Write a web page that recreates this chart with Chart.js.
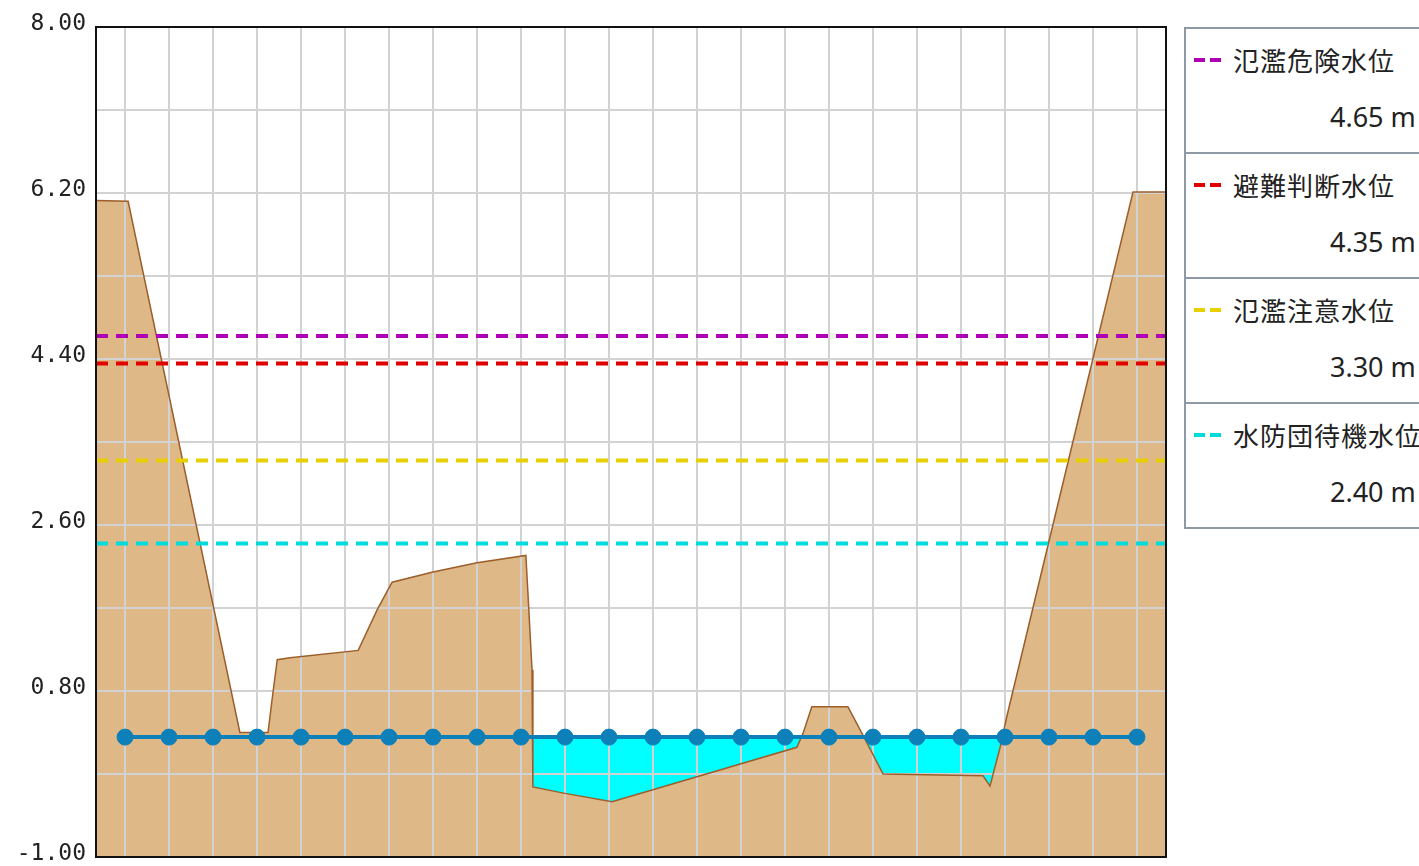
<!DOCTYPE html>
<html lang="ja">
<head>
<meta charset="utf-8">
<title>河川断面</title>
<script src="https://cdn.jsdelivr.net/npm/chart.js@4.4.0/dist/chart.umd.min.js"></script>
<style>
    html, body { margin: 0; padding: 0; background: #fff; width: 1419px; height: 866px; overflow: hidden; }
    #wrap { position: absolute; left: 0; top: 0; width: 1170px; height: 866px; }
    #legend { position: absolute; left: 1184px; top: 27px; width: 320px; border: 2px solid #8d99a5; }
    .item { position: relative; height: 123px; border-bottom: 2px solid #8d99a5; }
    .item:last-child { border-bottom: none; }
    .mark { position: absolute; left: 8px; top: 29px; width: 28px; height: 4px; }
    .name { position: absolute; left: 47px; top: 11px; line-height: 40px; font-size: 26px; font-family: "Noto Sans CJK JP", sans-serif; color: #222; letter-spacing: 1px; white-space: nowrap; }
    .val { position: absolute; left: 144px; top: 68px; line-height: 40px; font-size: 27px; font-family: "Noto Sans", sans-serif; color: #222; white-space: nowrap; }
</style>
</head>
<body>
<div id="wrap"><canvas id="chartSection" width="1170" height="866"></canvas></div>
<div id="legend"></div>
<script>
// x: cross-section distance (grid units), y: elevation (m)
var xMin = -0.66;
var xMax = 23.66;

var stationX = [0, 1, 2, 3, 4, 5, 6, 7, 8, 9, 10, 11, 12, 13, 14, 15, 16, 17, 18, 19, 20, 21, 22, 23];
var waterLevel = [0.30, 0.30, 0.30, 0.30, 0.30, 0.30, 0.30, 0.30, 0.30, 0.30, 0.30, 0.30,
                  0.30, 0.30, 0.30, 0.30, 0.30, 0.30, 0.30, 0.30, 0.30, 0.30, 0.30, 0.30];

var groundX = [-0.66, 0.07, 2.61, 3.25, 3.34, 3.46, 3.75, 5.30, 5.73, 6.07, 7.00, 8.00, 9.11, 9.16, 9.25, 9.27,
               10.00, 11.07, 13.00, 15.27, 15.41, 15.61, 16.43, 16.75, 17.23, 19.50, 19.66, 19.89, 20.05, 22.91, 23.66];
var groundY = [6.12, 6.11, 0.35, 0.35, 0.70, 1.14, 1.16, 1.24, 1.68, 1.98, 2.09, 2.19, 2.27, 1.84, 1.03, -0.24,
               -0.31, -0.40, -0.13, 0.19, 0.34, 0.63, 0.63, 0.34, -0.10, -0.12, -0.23, 0.19, 0.54, 6.21, 6.21];

var levelNames = ['氾濫危険水位', '避難判断水位', '氾濫注意水位', '水防団待機水位'];
var levelValues = [4.65, 4.35, 3.30, 2.40];
var levelColors = ['#b000b4', '#e00000', '#e8d000', '#00dcdc'];

var yMin = -1.00;
var yMax = 8.00;
var yStep = 0.90;

function toPoints(xs, ys) {
    return xs.map(function (x, i) { return { x: x, y: ys[i] }; });
}

var datasets = [];
// 0: water surface, filled down to the ground where the ground is lower
datasets.push({
    label: '水位',
    data: toPoints(stationX, waterLevel),
    borderColor: '#0e80b9',
    backgroundColor: '#00ffff',
    borderWidth: 4,
    pointRadius: 8,
    pointBorderWidth: 1,
    pointBackgroundColor: '#0e80b9',
    pointBorderColor: '#0e80b9',
    fill: { target: levelNames.length + 1, above: '#00ffff', below: 'rgba(0,0,0,0)' }
});
levelNames.forEach(function (name, i) {
    datasets.push({
        label: name,
        data: [{ x: xMin, y: levelValues[i] }, { x: xMax, y: levelValues[i] }],
        borderColor: levelColors[i],
        borderWidth: 4,
        borderDash: [12, 8],
        pointRadius: 0,
        fill: false
    });
});
datasets.push({
    label: '地盤',
    data: toPoints(groundX, groundY),
    borderColor: '#9c5e2a',
    backgroundColor: '#deb887',
    borderWidth: 1.5,
    pointRadius: 0,
    fill: 'start'
});

var framePlugin = {
    id: 'frame',
    afterDatasetsDraw: function (chart) {
        var a = chart.chartArea, ctx = chart.ctx;
        ctx.save();
        ctx.strokeStyle = '#111';
        ctx.lineWidth = 2;
        ctx.strokeRect(a.left, a.top, a.right - a.left, a.bottom - a.top);
        ctx.restore();
    }
};

new Chart(document.getElementById('chartSection'), {
    type: 'line',
    data: { datasets: datasets },
    plugins: [framePlugin],
    options: {
        responsive: false,
        animation: false,
        layout: { autoPadding: false, padding: { top: 27, right: 4, bottom: 9, left: 0 } },
        plugins: {
            legend: { display: false },
            tooltip: { enabled: false },
            filler: { drawTime: 'beforeDraw', propagate: false }
        },
        scales: {
            x: {
                type: 'linear',
                min: xMin,
                max: xMax,
                afterBuildTicks: function (scale) {
                    scale.ticks = stationX.map(function (v) { return { value: v }; });
                },
                afterFit: function (scale) {
                    scale.height = 0;
                    scale.paddingLeft = 0;
                    scale.paddingRight = 0;
                },
                ticks: { display: false },
                grid: { color: '#d2d2d2', lineWidth: 2, drawTicks: false },
                border: { display: false }
            },
            y: {
                min: yMin,
                max: yMax,
                afterFit: function (scale) {
                    scale.width = 96;
                    scale.paddingTop = 0;
                    scale.paddingBottom = 0;
                },
                ticks: {
                    stepSize: yStep,
                    padding: 10,
                    labelOffset: -3,
                    color: '#222',
                    font: { family: 'DejaVu Sans Mono', size: 23 },
                    callback: function (value, index) {
                        return index % 2 === 0 ? Number(value).toFixed(2) : '';
                    }
                },
                grid: { color: '#d2d2d2', lineWidth: 2, drawTicks: false },
                border: { display: false }
            }
        }
    }
});

// legend box on the right
var legendBox = document.getElementById('legend');
levelNames.forEach(function (name, i) {
    var item = document.createElement('div');
    item.className = 'item';
    var mark = document.createElement('span');
    mark.className = 'mark';
    mark.style.background = 'linear-gradient(to right, ' + levelColors[i] + ' 0 11px, transparent 11px 16px, ' + levelColors[i] + ' 16px 27px, transparent 27px)';
    var label = document.createElement('span');
    label.className = 'name';
    label.textContent = name;
    var val = document.createElement('span');
    val.className = 'val';
    val.textContent = levelValues[i].toFixed(2) + ' m';
    item.appendChild(mark);
    item.appendChild(label);
    item.appendChild(val);
    legendBox.appendChild(item);
});
</script>
</body>
</html>
